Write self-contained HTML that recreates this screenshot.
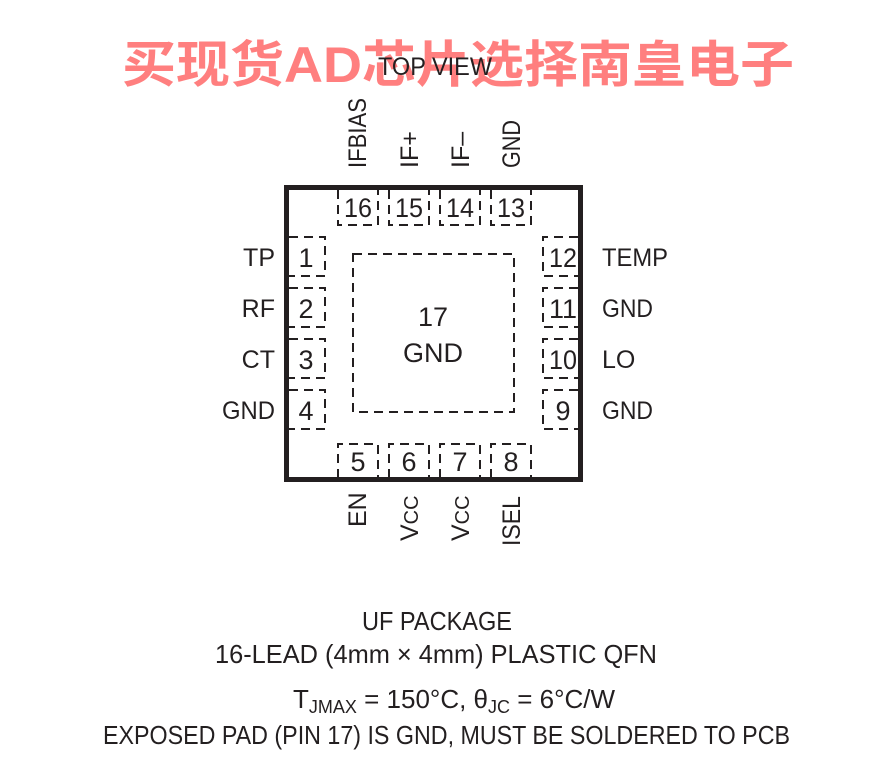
<!DOCTYPE html>
<html><head><meta charset="utf-8"><style>
html,body{margin:0;padding:0;background:#fff;}
svg{display:block;}
text{font-family:"Liberation Sans Narrow","Liberation Sans",sans-serif;fill:#231f20;}
</style></head><body>
<svg width="880" height="775" viewBox="0 0 880 775" xmlns="http://www.w3.org/2000/svg">
<text x="122" y="82" font-size="50" font-weight="bold" style="fill:#ff7f7f;font-family:'Liberation Sans','Noto Sans CJK SC',sans-serif" textLength="672" lengthAdjust="spacingAndGlyphs">买现货AD芯片选择南皇电子</text>
<text x="378" y="75" font-size="25" textLength="114" lengthAdjust="spacingAndGlyphs">TOP VIEW</text>

<rect x="286.5" y="187.5" width="294" height="292" fill="none" stroke="#231f20" stroke-width="5"/>
<g fill="none" stroke="#231f20" stroke-width="2" stroke-dasharray="9,6">
<rect x="353" y="254" width="161" height="158"/>
<path d="M338 190 V225 H378 V190"/><path d="M389 190 V225 H429 V190"/><path d="M440 190 V225 H480 V190"/><path d="M491 190 V225 H531 V190"/>
<path d="M338 478 V444 H378 V478"/><path d="M389 478 V444 H429 V478"/><path d="M440 478 V444 H480 V478"/><path d="M491 478 V444 H531 V478"/>
<path d="M289 237 H325 V276 H289"/><path d="M289 288 H325 V327 H289"/><path d="M289 339 H325 V378 H289"/><path d="M289 390 H325 V429 H289"/>
<path d="M578 237 H543 V276 H578"/><path d="M578 288 H543 V327 H578"/><path d="M578 339 H543 V378 H578"/><path d="M578 390 H543 V429 H578"/>
</g>
<g font-size="27" text-anchor="middle">
<text x="358" y="217" textLength="28" lengthAdjust="spacingAndGlyphs">16</text><text x="409" y="217" textLength="28" lengthAdjust="spacingAndGlyphs">15</text><text x="460" y="217" textLength="28" lengthAdjust="spacingAndGlyphs">14</text><text x="511" y="217" textLength="28" lengthAdjust="spacingAndGlyphs">13</text>
<text x="358" y="471">5</text><text x="409" y="471">6</text><text x="460" y="471">7</text><text x="511" y="471">8</text>
<text x="306" y="267">1</text><text x="306" y="318">2</text><text x="306" y="369">3</text><text x="306" y="420">4</text>
<text x="563" y="267" textLength="28" lengthAdjust="spacingAndGlyphs">12</text><text x="563" y="318" textLength="28" lengthAdjust="spacingAndGlyphs">11</text><text x="563" y="369" textLength="28" lengthAdjust="spacingAndGlyphs">10</text><text x="563" y="420">9</text>
<text x="433" y="326">17</text><text x="433" y="362">GND</text>
</g>
<g font-size="25" text-anchor="end">
<text x="275" y="266">TP</text><text x="275" y="317">RF</text><text x="275" y="368">CT</text><text x="275" y="419" textLength="53" lengthAdjust="spacingAndGlyphs">GND</text>
</g>
<g font-size="25">
<text x="602" y="266" textLength="66" lengthAdjust="spacingAndGlyphs">TEMP</text><text x="602" y="317" textLength="51" lengthAdjust="spacingAndGlyphs">GND</text><text x="602" y="368">LO</text><text x="602" y="419" textLength="51" lengthAdjust="spacingAndGlyphs">GND</text>
</g>
<g font-size="25">
<text transform="translate(366,168) rotate(-90)" textLength="70" lengthAdjust="spacingAndGlyphs">IFBIAS</text>
<text transform="translate(418,168) rotate(-90)">IF+</text>
<text transform="translate(469,168) rotate(-90)">IF–</text>
<text transform="translate(520,168) rotate(-90)" textLength="48" lengthAdjust="spacingAndGlyphs">GND</text>
<text transform="translate(366,527) rotate(-90)">EN</text>
<text transform="translate(418,541) rotate(-90)">V<tspan font-size="20" dy="0">CC</tspan></text>
<text transform="translate(469,541) rotate(-90)">V<tspan font-size="20">CC</tspan></text>
<text transform="translate(520,546) rotate(-90)" textLength="50" lengthAdjust="spacingAndGlyphs">ISEL</text>
</g>
<g font-size="26">
<text x="362" y="630" textLength="150" lengthAdjust="spacingAndGlyphs">UF PACKAGE</text>
<text x="215" y="663" textLength="442" lengthAdjust="spacingAndGlyphs">16-LEAD (4mm × 4mm) PLASTIC QFN</text>
<text x="293" y="708">T<tspan font-size="18" dy="5">JMAX</tspan><tspan dy="-5"> = 150°C, θ</tspan><tspan font-size="18" dy="5">JC</tspan><tspan dy="-5"> = 6°C/W</tspan></text>
<text x="103" y="744" textLength="687" lengthAdjust="spacingAndGlyphs">EXPOSED PAD (PIN 17) IS GND, MUST BE SOLDERED TO PCB</text>
</g>
</svg>
</body></html>
